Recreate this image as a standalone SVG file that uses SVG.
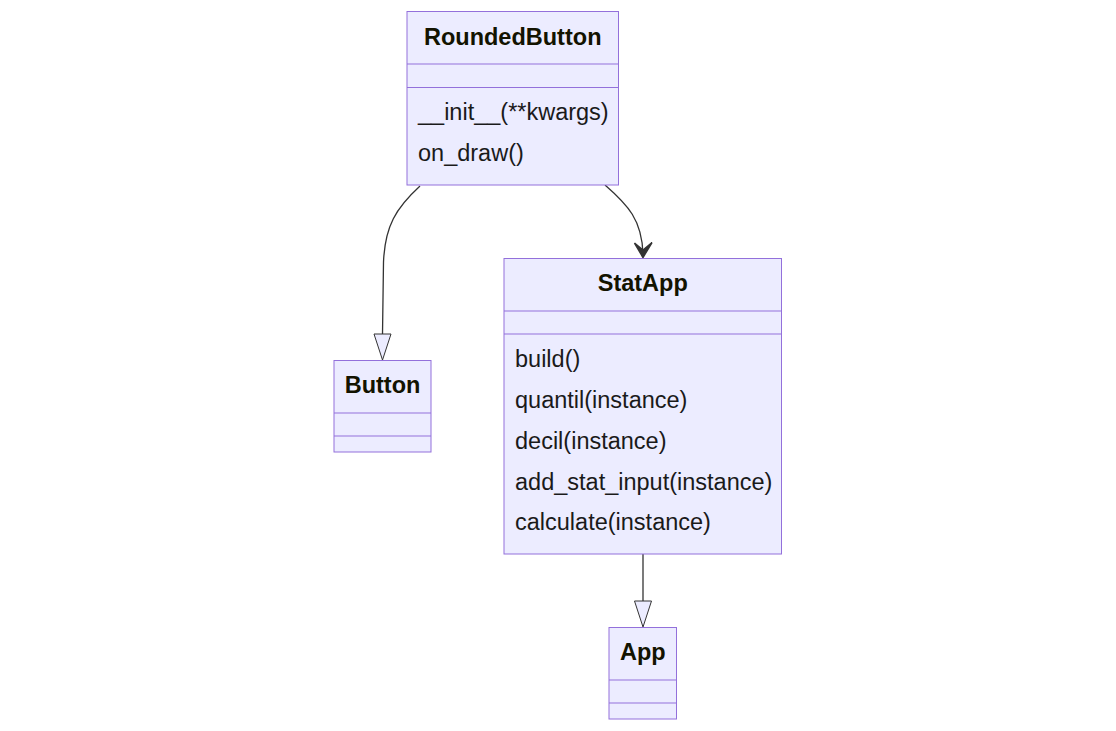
<svg xmlns="http://www.w3.org/2000/svg" width="1116" height="731" viewBox="0 0 1116 731">
<style>
.box{fill:#ECECFF;stroke:#9370DB;stroke-width:1}
.div{stroke:#9370DB;stroke-width:1}
.title{font-family:"Liberation Sans",Arial,sans-serif;font-size:23.5px;font-weight:bold;fill:#131300;text-anchor:middle}
.m{font-family:"Liberation Sans",Arial,sans-serif;font-size:23.5px;fill:#1a1a1a}
.edge{fill:none;stroke:#333;stroke-width:1.3}
.tri{fill:#ECECFF;stroke:#333;stroke-width:1}
.arr{fill:#333;stroke:#333;stroke-width:1.5;stroke-linejoin:miter}
</style>
<rect width="1116" height="731" fill="#fff"/>
<g id="connectors">
<path class="edge" d="M420,186 C396,208 385,226 383.5,262 L382.5,334"/>
<polygon class="tri" points="374,334 391,334 382.5,360"/>
<path class="edge" d="M605,185 C628,205 642,220 643,254"/>
<path class="arr" d="M643,257.5 L634.5,243 L643,250 L652,242.5 Z"/>
<path class="edge" d="M643,554 L643,601"/>
<polygon class="tri" points="634.5,601 651.5,601 643,627"/>
</g>
<g id="RoundedButton">
<rect class="box" x="407" y="11.5" width="211.5" height="173.5"/>
<line class="div" x1="407" y1="64" x2="618.5" y2="64"/>
<line class="div" x1="407" y1="87.5" x2="618.5" y2="87.5"/>
<text class="title" x="512.75" y="45">RoundedButton</text>
<text class="m" x="418" y="120">__init__(**kwargs)</text>
<text class="m" x="418" y="161">on_draw()</text>
</g>
<g id="Button">
<rect class="box" x="334" y="360.5" width="97" height="91.5"/>
<line class="div" x1="334" y1="413" x2="431" y2="413"/>
<line class="div" x1="334" y1="436" x2="431" y2="436"/>
<text class="title" x="382.5" y="393">Button</text>
</g>
<g id="StatApp">
<rect class="box" x="504" y="258.5" width="277.5" height="295.5"/>
<line class="div" x1="504" y1="311" x2="781.5" y2="311"/>
<line class="div" x1="504" y1="334" x2="781.5" y2="334"/>
<text class="title" x="642.75" y="291">StatApp</text>
<text class="m" x="515" y="367">build()</text>
<text class="m" x="515" y="408">quantil(instance)</text>
<text class="m" x="515" y="449">decil(instance)</text>
<text class="m" x="515" y="490">add_stat_input(instance)</text>
<text class="m" x="515" y="530">calculate(instance)</text>
</g>
<g id="App">
<rect class="box" x="609" y="627.5" width="67.5" height="91.5"/>
<line class="div" x1="609" y1="680" x2="676.5" y2="680"/>
<line class="div" x1="609" y1="703" x2="676.5" y2="703"/>
<text class="title" x="642.75" y="660">App</text>
</g>
</svg>
